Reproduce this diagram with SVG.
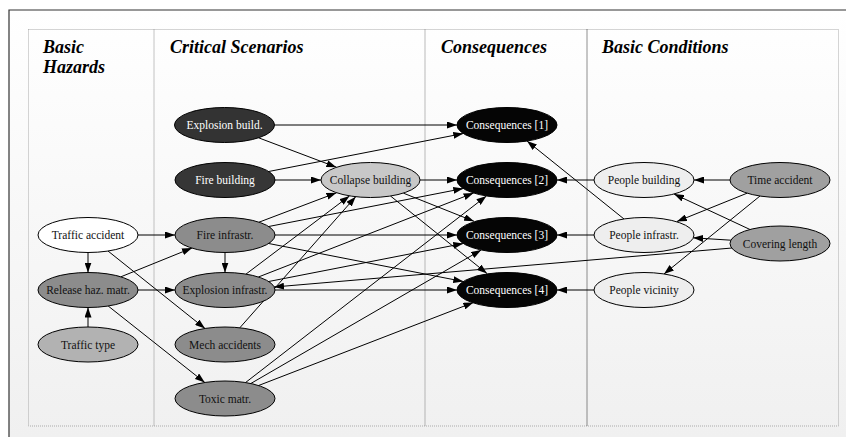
<svg xmlns="http://www.w3.org/2000/svg" width="846" height="437" viewBox="0 0 846 437" font-family="'Liberation Serif', 'Times New Roman', 'DejaVu Serif', serif">
<defs>
<linearGradient id="bg" x1="0" y1="0" x2="0" y2="1">
<stop offset="0" stop-color="#ffffff"/>
<stop offset="1" stop-color="#f0f0f0"/>
</linearGradient>
<marker id="ah" markerWidth="10" markerHeight="7" refX="10" refY="3.5" orient="auto" markerUnits="userSpaceOnUse">
<path d="M0,0 L10,3.5 L0,7 z" fill="#000"/>
</marker>
<style>
.hd{font-size:18px;font-weight:bold;font-style:italic;fill:#000}
.nd ellipse{stroke:#000;stroke-width:1}
.nd text{font-size:11.5px;text-anchor:middle}
.e line{stroke:#000;stroke-width:1;marker-end:url(#ah)}
.dk text{fill:#fff}
.lt text{fill:#111}
.div{stroke-dasharray:1,1;stroke-width:1;fill:none}
</style>
</defs>
<rect x="0" y="0" width="846" height="437" fill="#fff"/>
<rect x="9" y="10" width="837" height="427" fill="url(#bg)"/>
<path d="M9,437 V10 H846" fill="none" stroke="#333" stroke-width="1.2"/>
<g id="lanes">
<rect x="28.5" y="29.5" width="810" height="396.5" class="div" stroke="#aaa"/>
<line x1="154" y1="29.5" x2="154" y2="426" class="div" stroke="#888"/>
<line x1="425" y1="29.5" x2="425" y2="426" class="div" stroke="#777"/>
<line x1="587" y1="29.5" x2="587" y2="426" class="div" stroke="#222"/>
<text class="hd" x="43" y="53">Basic</text>
<text class="hd" x="43" y="73">Hazards</text>
<text class="hd" x="170" y="53">Critical Scenarios</text>
<text class="hd" x="441" y="53">Consequences</text>
<text class="hd" x="602" y="53">Basic Conditions</text>
</g>
<g id="edges" class="e">
<line x1="274.5" y1="125" x2="457" y2="125"/>
<line x1="258.6" y1="137.8" x2="336.4" y2="167.2"/>
<line x1="275" y1="180" x2="321" y2="180"/>
<line x1="268.7" y1="171.5" x2="463.3" y2="133.5"/>
<line x1="420" y1="180" x2="457" y2="180"/>
<line x1="403.5" y1="193.2" x2="474" y2="221.3"/>
<line x1="390.5" y1="196" x2="487" y2="273.5"/>
<line x1="138" y1="235" x2="175" y2="235"/>
<line x1="88" y1="252.5" x2="88" y2="272.5"/>
<line x1="108" y1="251" x2="205" y2="328.5"/>
<line x1="120.9" y1="276.8" x2="192" y2="248"/>
<line x1="138" y1="290" x2="175" y2="290"/>
<line x1="108.2" y1="306" x2="204.8" y2="382.5"/>
<line x1="88" y1="327" x2="88" y2="307.5"/>
<line x1="225" y1="252.5" x2="225" y2="272.5"/>
<line x1="259" y1="222.2" x2="336.5" y2="192.8"/>
<line x1="268.7" y1="226.5" x2="463.3" y2="188.5"/>
<line x1="275" y1="235" x2="457" y2="235"/>
<line x1="268.7" y1="243.5" x2="463.3" y2="281.5"/>
<line x1="246" y1="274.1" x2="349.5" y2="195.9"/>
<line x1="258.4" y1="277" x2="473.6" y2="193"/>
<line x1="268.7" y1="281.5" x2="463.3" y2="243.5"/>
<line x1="275" y1="290" x2="457" y2="290"/>
<line x1="239.8" y1="327.8" x2="355.7" y2="196.7"/>
<line x1="245.6" y1="382.5" x2="486.4" y2="196"/>
<line x1="250.8" y1="383.5" x2="481.2" y2="250"/>
<line x1="258.6" y1="385.5" x2="473.4" y2="302.5"/>
<line x1="594" y1="180" x2="557" y2="180"/>
<line x1="594" y1="235" x2="557" y2="235"/>
<line x1="594" y1="290" x2="557" y2="290"/>
<line x1="624" y1="219" x2="527" y2="141"/>
<line x1="730" y1="180" x2="694" y2="180"/>
<line x1="747.1" y1="193.2" x2="676.9" y2="221.5"/>
<line x1="760" y1="196" x2="664" y2="274"/>
<line x1="750" y1="229.5" x2="674" y2="194"/>
<line x1="730.9" y1="240.2" x2="693.1" y2="237.8"/>
<line x1="732" y1="248" x2="274" y2="287"/>
</g>
<g id="n_explosion_build" class="nd dk"><ellipse cx="224.5" cy="125" rx="50" ry="17.5" fill="#333"/><text x="224.5" y="129">Explosion build.</text></g>
<g id="n_fire_building" class="nd dk"><ellipse cx="225" cy="180" rx="50" ry="17.5" fill="#363636"/><text x="225" y="184">Fire building</text></g>
<g id="n_collapse_building" class="nd lt"><ellipse cx="370.5" cy="180" rx="49.5" ry="17.5" fill="#c8c8c8"/><text x="370.5" y="184">Collapse building</text></g>
<g id="n_cons1" class="nd dk"><ellipse cx="507" cy="125" rx="50" ry="17.5" fill="#050505"/><text x="507" y="129">Consequences [1]</text></g>
<g id="n_cons2" class="nd dk"><ellipse cx="507" cy="180" rx="50" ry="17.5" fill="#050505"/><text x="507" y="184">Consequences [2]</text></g>
<g id="n_cons3" class="nd dk"><ellipse cx="507" cy="235" rx="50" ry="17.5" fill="#050505"/><text x="507" y="239">Consequences [3]</text></g>
<g id="n_cons4" class="nd dk"><ellipse cx="507" cy="290" rx="50" ry="17.5" fill="#050505"/><text x="507" y="294">Consequences [4]</text></g>
<g id="n_traffic_accident" class="nd lt"><ellipse cx="88" cy="235" rx="50" ry="17.5" fill="#fff"/><text x="88" y="239">Traffic accident</text></g>
<g id="n_release" class="nd lt"><ellipse cx="88" cy="290" rx="50" ry="17.5" fill="#8c8c8c"/><text x="88" y="294">Release haz. matr.</text></g>
<g id="n_traffic_type" class="nd lt"><ellipse cx="88" cy="344.5" rx="50" ry="17.5" fill="#b2b2b2"/><text x="88" y="348.5">Traffic type</text></g>
<g id="n_fire_infra" class="nd lt"><ellipse cx="225" cy="235" rx="50" ry="17.5" fill="#8c8c8c"/><text x="225" y="239">Fire infrastr.</text></g>
<g id="n_explosion_infra" class="nd lt"><ellipse cx="225" cy="290" rx="50" ry="17.5" fill="#8c8c8c"/><text x="225" y="294">Explosion infrastr.</text></g>
<g id="n_mech" class="nd lt"><ellipse cx="225" cy="344.5" rx="50" ry="17.5" fill="#8c8c8c"/><text x="225" y="348.5">Mech accidents</text></g>
<g id="n_toxic" class="nd lt"><ellipse cx="225" cy="398.5" rx="50" ry="17.5" fill="#8c8c8c"/><text x="225" y="402.5">Toxic matr.</text></g>
<g id="n_people_building" class="nd lt"><ellipse cx="644" cy="180" rx="50" ry="17.5" fill="#eee"/><text x="644" y="184">People building</text></g>
<g id="n_people_infra" class="nd lt"><ellipse cx="644" cy="235" rx="50" ry="17.5" fill="#eee"/><text x="644" y="239">People infrastr.</text></g>
<g id="n_people_vicinity" class="nd lt"><ellipse cx="644" cy="290" rx="50" ry="17.5" fill="#eee"/><text x="644" y="294">People vicinity</text></g>
<g id="n_time_accident" class="nd lt"><ellipse cx="780" cy="180" rx="50" ry="17.5" fill="#a0a0a0"/><text x="780" y="184">Time accident</text></g>
<g id="n_covering_length" class="nd lt"><ellipse cx="780" cy="243.5" rx="50" ry="17.5" fill="#a0a0a0"/><text x="780" y="247.5">Covering length</text></g>
</svg>
